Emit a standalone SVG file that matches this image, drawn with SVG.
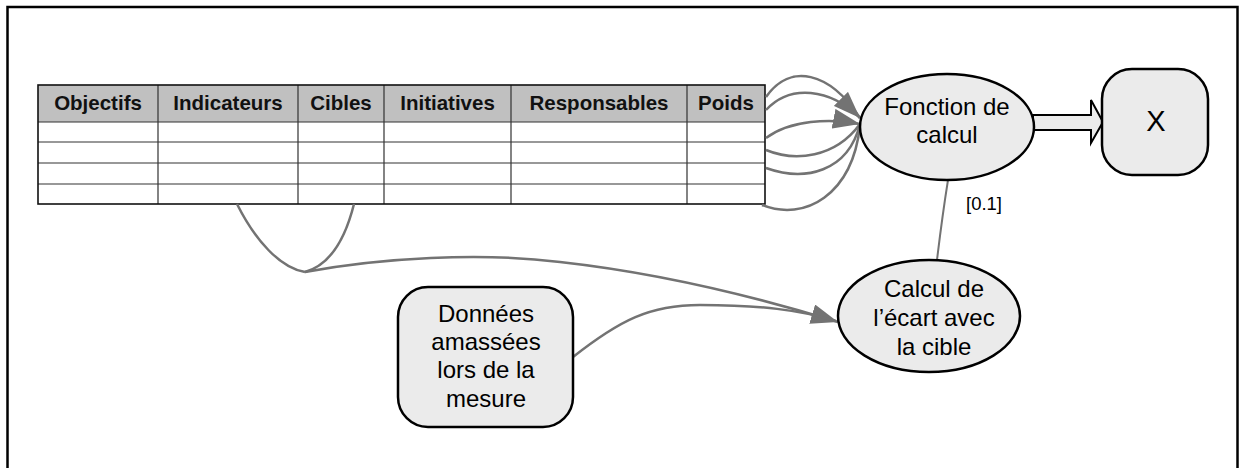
<svg xmlns="http://www.w3.org/2000/svg" width="1241" height="468" viewBox="0 0 1241 468">
<style>
.frame{fill:none;stroke:#000;stroke-width:2.5}
.node{fill:#ebebeb;stroke:#000;stroke-width:2.5}
.hdr{fill:#c0c0c0}
.cell{fill:#fff}
.grid{stroke:#333;stroke-width:1.2;fill:none}
.outer{stroke:#111;stroke-width:1.6;fill:none}
.th{font-family:"Liberation Sans",Arial,sans-serif;font-weight:bold;font-size:20.5px;fill:#111;text-anchor:middle}
.t{font-family:"Liberation Sans",Arial,sans-serif;font-size:24px;fill:#000;text-anchor:middle}
.lbl{font-family:"Liberation Sans",Arial,sans-serif;font-size:18.5px;fill:#000}
.c{fill:none;stroke:#737373;stroke-width:2.5}
</style>
<defs>
<marker id="ah" markerUnits="userSpaceOnUse" markerWidth="28" markerHeight="20" refX="27" refY="10" orient="auto">
<path d="M0,0 L27,10 L0,20 z" fill="#737373"/>
</marker>
</defs>
<rect width="1241" height="468" fill="#fff"/>
<rect class="frame" x="7.5" y="7" width="1230" height="475"/>

<g id="table">
<rect class="hdr" x="38" y="85" width="727" height="37"/>
<rect class="cell" x="38" y="122" width="727" height="82"/>
<path class="grid" d="M38,122H765M38,142H765M38,163H765M38,184H765M158,85V204M298,85V204M384,85V204M511,85V204M687,85V204"/>
<rect class="outer" x="38" y="85" width="727" height="119"/>
<text class="th" x="98" y="110">Objectifs</text>
<text class="th" x="228" y="110">Indicateurs</text>
<text class="th" x="341" y="110">Cibles</text>
<text class="th" x="447.5" y="110">Initiatives</text>
<text class="th" x="599" y="110">Responsables</text>
<text class="th" x="726" y="110">Poids</text>
</g>

<g id="connectors">
<path class="c" d="M766,97 C790,62 830,72 860,118"/>
<path class="c" d="M766,110 C790,84 830,88 860,118" marker-end="url(#ah)"/>
<path class="c" d="M766,138 C790,120 830,118 860,124" marker-end="url(#ah)"/>
<path class="c" d="M766,150 C795,162 835,158 860,124"/>
<path class="c" d="M766,168 C805,182 848,172 860,124"/>
<path class="c" d="M762,205 C805,222 852,195 860,126"/>
<path class="c" d="M237,204 C255,240 280,268 305,272"/>
<path class="c" d="M354,204 C345,240 330,265 305,272"/>
<path class="c" d="M305,272 C380,258 480,252 560,262 C650,272 750,295 838,322" marker-end="url(#ah)"/>
<path class="c" d="M573,357 C620,320 650,305 700,305 C760,305 800,310 836,321"/>
<path class="c" style="stroke-width:2" d="M948,180 C944,205 940,235 937,260"/>
<polygon points="1033,115 1091,115 1091,100 1103,122 1091,143 1091,130 1033,130" fill="#ebebeb" stroke="#000" stroke-width="2"/>
<text class="lbl" x="966" y="210">[0.1]</text>
</g>

<g id="fonction">
<ellipse class="node" cx="947" cy="127" rx="87" ry="53"/>
<text class="t" x="947" y="115">Fonction de</text>
<text class="t" x="947" y="143">calcul</text>
</g>

<g id="x">
<rect class="node" x="1102" y="69" width="106" height="106" rx="30"/>
<text class="t" x="1156" y="131" style="font-size:29px">X</text>
</g>

<g id="ecart">
<ellipse class="node" cx="929" cy="316" rx="91" ry="56"/>
<text class="t" x="934" y="297">Calcul de</text>
<text class="t" x="934" y="326">l’écart avec</text>
<text class="t" x="934" y="355">la cible</text>
</g>

<g id="donnees">
<rect class="node" x="398" y="287" width="175" height="140" rx="30"/>
<text class="t" x="486" y="322">Données</text>
<text class="t" x="486" y="350">amassées</text>
<text class="t" x="486" y="378">lors de la</text>
<text class="t" x="486" y="407">mesure</text>
</g>
</svg>
